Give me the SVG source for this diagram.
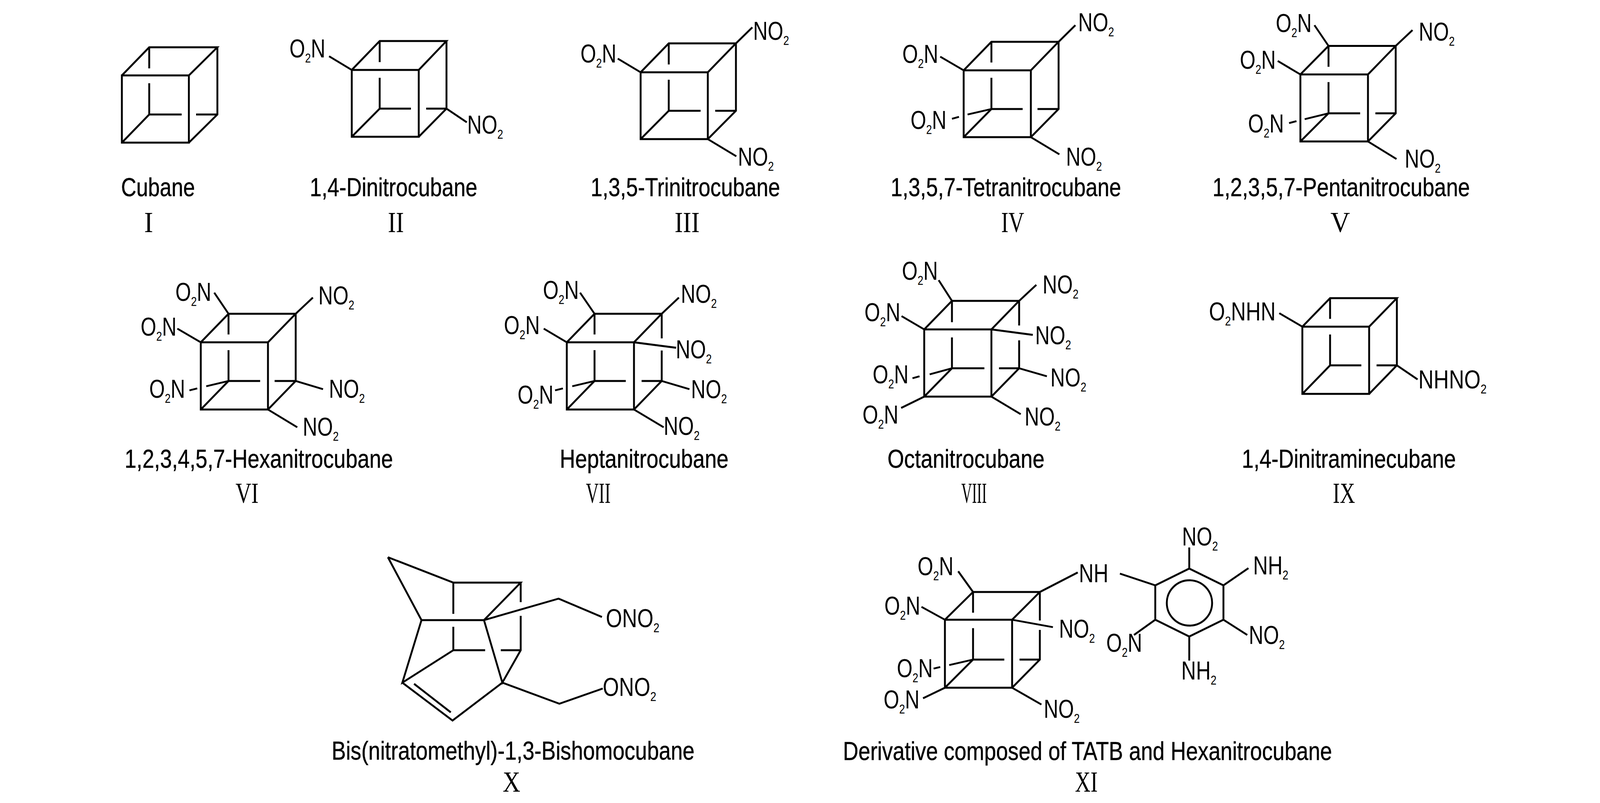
<svg xmlns="http://www.w3.org/2000/svg" width="4134" height="2055" viewBox="0 0 4134 2055">
<style>
.b{fill:none;stroke:#000;stroke-width:4.8;stroke-linejoin:miter}
text{fill:#000}
.l{font-family:"Liberation Sans",Arial,sans-serif;font-size:67px;stroke:#000;stroke-width:.6px}
.r{font-family:"Liberation Serif","Times New Roman",serif;font-size:74px}
.f{font-family:"Liberation Sans",Arial,sans-serif;font-size:66px}
.s{font-size:34px}
</style>
<rect width="4134" height="2055" fill="#fff"/>

<g id="mol-I">
<path class="b" d="M312 193H483.5V365H312Z M312 193L382 121H556.5L483.5 193 M556.5 121V293L483.5 365 M312 365L382 293 M382 121V175 M382 213V293H465 M502 293H556.5"/>
<text class="l" x="310" y="502" textLength="189" lengthAdjust="spacingAndGlyphs">Cubane</text>
<text class="r" x="369" y="594" textLength="23" lengthAdjust="spacingAndGlyphs">I</text>
</g>

<g id="mol-II">
<path class="b" d="M900.5 179H1072V350H900.5Z M900.5 179L972 105H1143L1072 179 M1143 105V278L1072 350 M900.5 350L972 278 M972 105V159 M972 199V278H1052 M1091 278H1143 M900.5 179L842.5 144 M1143 278L1195 313"/>
<text class="f" transform="translate(741 147) scale(.78 1)">O<tspan class="s" dy="13">2</tspan><tspan dy="-13">N</tspan></text>
<text class="f" transform="translate(1196 342) scale(.78 1)">NO<tspan class="s" dy="13">2</tspan></text>
<text class="l" x="793" y="502" textLength="429" lengthAdjust="spacingAndGlyphs">1,4-Dinitrocubane</text>
<text class="r" x="993" y="594" textLength="41" lengthAdjust="spacingAndGlyphs">II</text>
</g>

<g id="mol-III">
<path class="b" d="M1640 185H1812V356H1640Z M1640 185L1712 111H1884L1812 185 M1884 111V283.5L1812 356 M1640 356L1712 283.5 M1712 111V165 M1712 204V283.5H1793.5 M1831 283.5H1884 M1640 185L1581.5 150 M1884 111L1926 70 M1812 356L1885 400"/>
<text class="f" transform="translate(1486 160) scale(.78 1)">O<tspan class="s" dy="13">2</tspan><tspan dy="-13">N</tspan></text>
<text class="f" transform="translate(1928 102) scale(.78 1)">NO<tspan class="s" dy="13">2</tspan></text>
<text class="f" transform="translate(1889 424) scale(.78 1)">NO<tspan class="s" dy="13">2</tspan></text>
<text class="l" x="1512" y="502" textLength="485" lengthAdjust="spacingAndGlyphs">1,3,5-Trinitrocubane</text>
<text class="r" x="1727" y="594" textLength="64" lengthAdjust="spacingAndGlyphs">III</text>
</g>

<g id="mol-IV">
<path class="b" d="M2467 180H2639V351H2467Z M2467 180L2538 107H2710L2639 180 M2710 107V279L2639 351 M2467 351L2538 279 M2538 107V160 M2538 199V279H2618 M2656 279H2710 M2710 107L2753 64.5 M2467 180L2407 145 M2639 351L2712 395 M2538 279L2477 293 M2455 299L2437 304"/>
<text class="f" transform="translate(2760 80) scale(.78 1)">NO<tspan class="s" dy="13">2</tspan></text>
<text class="f" transform="translate(2310 161) scale(.78 1)">O<tspan class="s" dy="13">2</tspan><tspan dy="-13">N</tspan></text>
<text class="f" transform="translate(2331 330) scale(.78 1)">O<tspan class="s" dy="13">2</tspan><tspan dy="-13">N</tspan></text>
<text class="f" transform="translate(2729 424) scale(.78 1)">NO<tspan class="s" dy="13">2</tspan></text>
<text class="l" x="2280" y="502" textLength="590" lengthAdjust="spacingAndGlyphs">1,3,5,7-Tetranitrocubane</text>
<text class="r" x="2563" y="594" textLength="59" lengthAdjust="spacingAndGlyphs">IV</text>
</g>

<g id="mol-V">
<path class="b" d="M3329 190.5H3502V362H3329Z M3329 190.5L3401 117.5H3573L3502 190.5 M3573 117.5V290L3502 362 M3329 362L3401 290 M3401 117.5V171 M3401 210V290H3482 M3521 290H3573 M3401 117.5L3365 64.5 M3573 117.5L3616 77 M3329 190.5L3271 156 M3502 362L3575 407 M3401 290L3340 305 M3319 310L3300 315"/>
<text class="f" transform="translate(3266 82) scale(.78 1)">O<tspan class="s" dy="13">2</tspan><tspan dy="-13">N</tspan></text>
<text class="f" transform="translate(3632 104) scale(.78 1)">NO<tspan class="s" dy="13">2</tspan></text>
<text class="f" transform="translate(3174 176) scale(.78 1)">O<tspan class="s" dy="13">2</tspan><tspan dy="-13">N</tspan></text>
<text class="f" transform="translate(3195 339) scale(.78 1)">O<tspan class="s" dy="13">2</tspan><tspan dy="-13">N</tspan></text>
<text class="f" transform="translate(3596 429) scale(.78 1)">NO<tspan class="s" dy="13">2</tspan></text>
<text class="l" x="3104" y="502" textLength="659" lengthAdjust="spacingAndGlyphs">1,2,3,5,7-Pentanitrocubane</text>
<text class="r" x="3406" y="594" textLength="50" lengthAdjust="spacingAndGlyphs">V</text>
</g>

<g id="mol-VI">
<path class="b" d="M514 876H686V1048H514Z M514 876L585 803H757L686 876 M757 803V975L686 1048 M514 1048L585 975 M585 803V856 M585 896V975H666 M703 975H757 M585 803L548.5 749 M757 803L801 761.5 M514 876L454 841 M757 975L827 996 M686 1048L761 1093.5 M585 975L528 988.5 M505 994L485 999"/>
<text class="f" transform="translate(449 770) scale(.78 1)">O<tspan class="s" dy="13">2</tspan><tspan dy="-13">N</tspan></text>
<text class="f" transform="translate(815 779) scale(.78 1)">NO<tspan class="s" dy="13">2</tspan></text>
<text class="f" transform="translate(360 859) scale(.78 1)">O<tspan class="s" dy="13">2</tspan><tspan dy="-13">N</tspan></text>
<text class="f" transform="translate(382 1018) scale(.78 1)">O<tspan class="s" dy="13">2</tspan><tspan dy="-13">N</tspan></text>
<text class="f" transform="translate(842 1018) scale(.78 1)">NO<tspan class="s" dy="13">2</tspan></text>
<text class="f" transform="translate(775 1115) scale(.78 1)">NO<tspan class="s" dy="13">2</tspan></text>
<text class="l" x="319" y="1197" textLength="687" lengthAdjust="spacingAndGlyphs">1,2,3,4,5,7-Hexanitrocubane</text>
<text class="r" x="603" y="1287" textLength="59" lengthAdjust="spacingAndGlyphs">VI</text>
</g>

<g id="mol-VII">
<path class="b" d="M1451 876H1623V1048H1451Z M1451 876L1522 803H1694L1623 876 M1694 803V866 M1694 897V975L1623 1048 M1451 1048L1522 975 M1522 803V856 M1522 896V975H1602 M1642.5 975H1694 M1522 803L1485 749 M1694 803L1738 761.5 M1451 876L1392 841 M1623 876L1731 890 M1694 975L1765 996 M1623 1048L1699 1093.5 M1522 975L1465 988.5 M1441 994L1421 999"/>
<text class="f" transform="translate(1390 765) scale(.78 1)">O<tspan class="s" dy="13">2</tspan><tspan dy="-13">N</tspan></text>
<text class="f" transform="translate(1743 774.5) scale(.78 1)">NO<tspan class="s" dy="13">2</tspan></text>
<text class="f" transform="translate(1290 855) scale(.78 1)">O<tspan class="s" dy="13">2</tspan><tspan dy="-13">N</tspan></text>
<text class="f" transform="translate(1730 917) scale(.78 1)">NO<tspan class="s" dy="13">2</tspan></text>
<text class="f" transform="translate(1325 1033) scale(.78 1)">O<tspan class="s" dy="13">2</tspan><tspan dy="-13">N</tspan></text>
<text class="f" transform="translate(1769 1019) scale(.78 1)">NO<tspan class="s" dy="13">2</tspan></text>
<text class="f" transform="translate(1699 1113) scale(.78 1)">NO<tspan class="s" dy="13">2</tspan></text>
<text class="l" x="1433" y="1197" textLength="432" lengthAdjust="spacingAndGlyphs">Heptanitrocubane</text>
<text class="r" x="1500" y="1287" textLength="63" lengthAdjust="spacingAndGlyphs">VII</text>
</g>

<g id="mol-VIII">
<path class="b" d="M2366 843H2538V1015H2366Z M2366 843L2437 770H2609L2538 843 M2609 770V833 M2609 871V942.5L2538 1015 M2366 1015L2437 942.5 M2437 770V824.5 M2437 863.5V942.5H2520 M2557.5 942.5H2609 M2437 770L2403 717 M2609 770L2653 729 M2366 843L2308 809 M2538 843L2644 857 M2609 942.5L2680 963 M2538 1015L2613 1060 M2366 1015L2307 1044 M2437 942.5L2380 958 M2354 963L2336 968"/>
<text class="f" transform="translate(2309 716) scale(.78 1)">O<tspan class="s" dy="13">2</tspan><tspan dy="-13">N</tspan></text>
<text class="f" transform="translate(2669 751) scale(.78 1)">NO<tspan class="s" dy="13">2</tspan></text>
<text class="f" transform="translate(2213 822) scale(.78 1)">O<tspan class="s" dy="13">2</tspan><tspan dy="-13">N</tspan></text>
<text class="f" transform="translate(2650 881) scale(.78 1)">NO<tspan class="s" dy="13">2</tspan></text>
<text class="f" transform="translate(2234 981) scale(.78 1)">O<tspan class="s" dy="13">2</tspan><tspan dy="-13">N</tspan></text>
<text class="f" transform="translate(2689 989) scale(.78 1)">NO<tspan class="s" dy="13">2</tspan></text>
<text class="f" transform="translate(2208 1083.5) scale(.78 1)">O<tspan class="s" dy="13">2</tspan><tspan dy="-13">N</tspan></text>
<text class="f" transform="translate(2623 1089) scale(.78 1)">NO<tspan class="s" dy="13">2</tspan></text>
<text class="l" x="2272" y="1197" textLength="402" lengthAdjust="spacingAndGlyphs">Octanitrocubane</text>
<text class="r" x="2461" y="1287" textLength="65" lengthAdjust="spacingAndGlyphs">VIII</text>
</g>

<g id="mol-IX">
<path class="b" d="M3334 836H3505V1008H3334Z M3334 836L3405 763H3576L3505 836 M3576 763V935L3505 1008 M3334 1008L3405 935 M3405 763V816 M3405 856V935H3485 M3524 935H3576 M3334 836L3275 801.5 M3576 935L3629 971"/>
<text class="f" transform="translate(3095 820) scale(.8 1)">O<tspan class="s" dy="13">2</tspan><tspan dy="-13">NHN</tspan></text>
<text class="f" transform="translate(3631 994) scale(.82 1)">NHNO<tspan class="s" dy="13">2</tspan></text>
<text class="l" x="3179" y="1197" textLength="548" lengthAdjust="spacingAndGlyphs">1,4-Dinitraminecubane</text>
<text class="r" x="3412" y="1287" textLength="57" lengthAdjust="spacingAndGlyphs">IX</text>
</g>

<g id="mol-X">
<path class="b" d="M993 1426L1160.5 1491H1333L1239 1587H1079L993 1426 M1160.5 1491V1571 M1160.5 1604V1664H1242 M1282 1664H1333 M1333 1491V1541 M1333 1576V1664L1286 1747L1239 1587 M1239 1587L1430 1532L1541 1579 M1079 1587L1030 1747L1160.5 1664 M1030 1747L1158.5 1844L1286 1747L1432 1801L1543 1762 M1060 1750L1154 1823"/>
<text class="f" transform="translate(1551 1605) scale(.81 1)">ONO<tspan class="s" dy="13">2</tspan></text>
<text class="f" transform="translate(1543 1780.5) scale(.81 1)">ONO<tspan class="s" dy="13">2</tspan></text>
<text class="l" x="849" y="1944" textLength="929" lengthAdjust="spacingAndGlyphs">Bis(nitratomethyl)-1,3-Bishomocubane</text>
<text class="r" x="1287" y="2026" textLength="45" lengthAdjust="spacingAndGlyphs">X</text>
</g>

<g id="mol-XI">
<path class="b" d="M2419 1586H2591V1760H2419Z M2419 1586L2491 1515H2662L2591 1586 M2662 1515V1588 M2662 1612V1688L2591 1760 M2419 1760L2491 1688 M2491 1515V1568 M2491 1607.5V1688H2571 M2610 1688H2662 M2491 1515L2453 1462 M2662 1515L2759 1465 M2419 1586L2359 1553 M2591 1586L2695.5 1605 M2419 1760L2363 1787 M2591 1760L2666 1803 M2491 1688L2430 1702 M2407 1707L2390 1711"/>
<path class="b" d="M3044.5 1455L3132 1498V1586L3044.5 1629L2957.5 1586V1498Z M2957.5 1498L2867 1468 M3044.5 1455V1401 M3132 1498L3196 1454 M3132 1586L3193 1625 M2957.5 1586L2903 1625 M3044.5 1629V1690.5"/>
<circle class="b" cx="3045" cy="1543" r="58"/>
<text class="f" transform="translate(2349 1472) scale(.78 1)">O<tspan class="s" dy="13">2</tspan><tspan dy="-13">N</tspan></text>
<text class="f" transform="translate(2762 1490) scale(.79 1)">NH</text>
<text class="f" transform="translate(2264 1573) scale(.78 1)">O<tspan class="s" dy="13">2</tspan><tspan dy="-13">N</tspan></text>
<text class="f" transform="translate(2711 1632) scale(.78 1)">NO<tspan class="s" dy="13">2</tspan></text>
<text class="f" transform="translate(2296 1733) scale(.78 1)">O<tspan class="s" dy="13">2</tspan><tspan dy="-13">N</tspan></text>
<text class="f" transform="translate(2262 1813) scale(.78 1)">O<tspan class="s" dy="13">2</tspan><tspan dy="-13">N</tspan></text>
<text class="f" transform="translate(2672 1837) scale(.78 1)">NO<tspan class="s" dy="13">2</tspan></text>
<text class="f" transform="translate(3026 1396) scale(.78 1)">NO<tspan class="s" dy="13">2</tspan></text>
<text class="f" transform="translate(3208 1470) scale(.79 1)">NH<tspan class="s" dy="13">2</tspan></text>
<text class="f" transform="translate(3197 1648) scale(.78 1)">NO<tspan class="s" dy="13">2</tspan></text>
<text class="f" transform="translate(2832 1668) scale(.78 1)">O<tspan class="s" dy="13">2</tspan><tspan dy="-13">N</tspan></text>
<text class="f" transform="translate(3024 1739) scale(.79 1)">NH<tspan class="s" dy="13">2</tspan></text>
<text class="l" x="2158" y="1945" textLength="1252" lengthAdjust="spacingAndGlyphs">Derivative composed of TATB and Hexanitrocubane</text>
<text class="r" x="2752" y="2026" textLength="58" lengthAdjust="spacingAndGlyphs">XI</text>
</g>
</svg>
